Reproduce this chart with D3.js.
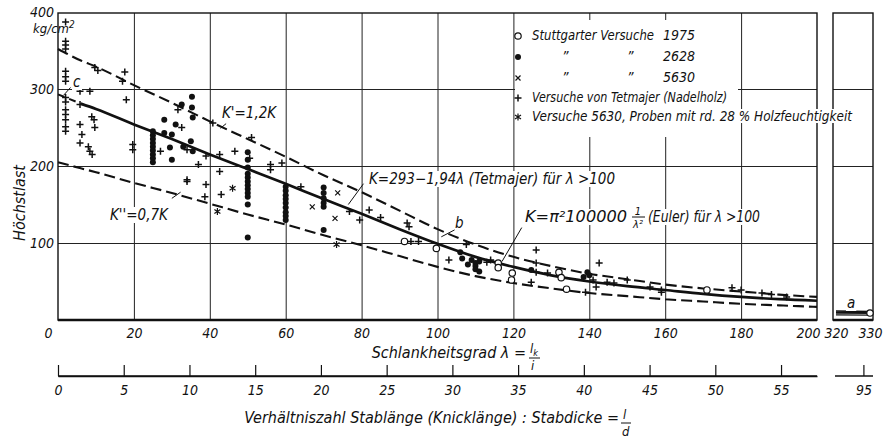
<!DOCTYPE html>
<html lang="de">
<head>
<meta charset="utf-8">
<title>Höchstlast und Schlankheitsgrad</title>
<script src="https://cdn.jsdelivr.net/npm/d3@7/dist/d3.min.js"></script>
<style>
  body { margin: 0; background: #fff; }
  svg text { font-family: "DejaVu Sans Condensed", "Liberation Sans Narrow", sans-serif; font-style: italic; fill: #111; }
</style>
</head>
<body>
<script>
// curve values (lambda, K in kg/cm2)
var curveLambda = [0, 6, 10, 20, 30, 40, 50, 60, 70, 80, 90, 100, 110, 120, 130, 140, 150, 160, 170, 180, 190, 200];
var kMid   = [293, 281, 274, 254, 235, 215, 196, 177, 157, 138, 118, 99, 82, 69, 58, 50, 44, 39, 34, 30, 27, 25];
var kUpper = [352, 337, 329, 305, 282, 258, 235, 212, 188, 166, 142, 118, 98, 82, 70, 60, 53, 46, 41, 37, 33, 30];
var kLower = [205, 197, 192, 178, 165, 151, 137, 124, 110, 97, 83, 69, 57, 48, 41, 35, 31, 27, 24, 21, 19, 17];
// right hand panel (lambda 320 .. 330)
var rightLambda = [320, 330];
var rightMid = [9.6, 9.1];
var rightUpper = [11.6, 10.9];
var rightLower = [6.7, 6.3];

// test points [lambda, K]
var stuttgart1975 = [[91.3,102],[99.7,93],[116,74],[116,68],[119.7,61],[119.5,52],[132,62],[132.6,55],[134,40],[171,39]];
var stuttgart1975Right = [[330,9]];
var stuttgart2628 = [[25,245],[25,240],[25,235],[25,230],[25,225],[25,220],[25,215],[25,210],[25,205],
  [35.3,290],[32.6,280],[35.3,276],[28,260],[31,254],[35.5,263],[28,243],[30,241],[29.5,224],[30,208],[33,225],[35.5,219],[35,232],
  [50,218],[50,208],[50,198],[50,190],[50,185],[50,180],[50,175],[50,170],[50,165],[50,160],[50,150],[50,107],
  [60,173],[60,168],[60,162],[60,157],[60,152],[60,146],[60,140],[60,135],[60,130],
  [70,172],[70,165],[70,158],[70,152],[70,147],[70,117],
  [106,88],[106.5,80],[109,78],[110,74],[110,70],[110,66],[111,63],[108,72],[111,76],
  [124.7,65],[139.5,62],[138.5,56],[140,58]];
var stuttgart5630 = [[73.7,165],[73,132],[67,147]];
var tetmajer = [[2,387],[2,362],[2,357],[2,352],[2,323],[2,316],[2,310],[2,289],[2,283],[2,273],[2,267],[2,260],[2,251],[2,245],
  [5.8,297],[8.4,297],[5.8,280],[9.7,328],[10.5,324],[17.6,322],[17,310],[18,286],[8.9,264],[9.5,260],[5.8,254],[9.7,250],[6.3,241],[5.8,230],[8,225],[8.4,219],[9,215],[19.7,228],[19.7,221],
  [31.6,273],[32.6,250],[27,219],[34,180],
  [40.8,256],[51,237],[46.6,219],[42.6,215],[39,213],[34,221],[37,202],[42.6,193],[56,202],[56,195],[59,204],[50.5,210],[34,182],[39,176],[43,163],[38.7,160],[64,173],
  [76.8,141],[79.5,130],[82,143],[85,133],[92,126],[92.5,121],[93,102],[95,102],[103,78],[107.6,98],
  [113,75],[114,78],[126,91],[126,74],[126,62],[129,61],[124.7,49],[142.6,74],[141,52],[141.8,43],[139,36],[144.7,49],[146.5,48],[150,52],[156,43],[159,39],[159,36],[177.6,42],[180,39],[185.5,35],[188,33],[192,30]];
var moisture5630 = [[73.4,98],[42,141],[46,171]];

var xTicks = [0, 20, 40, 60, 80, 100, 120, 140, 160, 180, 200];
var xTicksRight = [320, 330];
var yTicks = [100, 200, 300, 400];
var ldTicks = [0, 5, 10, 15, 20, 25, 30, 35, 40, 45, 50, 55];
var ldTicksRight = [95];

var w = 886, h = 439;
var svg = d3.select("body").append("svg").attr("width", w).attr("height", h);

var x = d3.scaleLinear().domain([0, 200]).range([58, 817]);
var xR = d3.scaleLinear().domain([320, 330]).range([836, 870]);
var y = d3.scaleLinear().domain([0, 400]).range([320, 12]);
var ld = d3.scaleLinear().domain([0, 200 / Math.sqrt(12)]).range([58, 817]);
var ldR = function(v) { return xR(v * Math.sqrt(12)); };

var yTop = 13, yBottom = 320;
var ink = "#111";

// grid
var gridStyle = function(g) { g.select(".domain").remove(); g.selectAll("line").attr("stroke", "#222").attr("stroke-width", 1); };
svg.append("g").attr("transform", "translate(0," + yBottom + ")")
  .call(d3.axisBottom(x).tickValues(d3.range(20, 200, 20)).tickSize(-(yBottom - yTop)).tickFormat(""))
  .call(gridStyle);
svg.append("g").attr("transform", "translate(58,0)")
  .call(d3.axisLeft(y).tickValues([100, 200, 300]).tickSize(-(817 - 58)).tickFormat(""))
  .call(gridStyle);
svg.append("g").attr("transform", "translate(833,0)")
  .call(d3.axisLeft(y).tickValues([100, 200, 300]).tickSize(-(873 - 833)).tickFormat(""))
  .call(gridStyle);

// frames
svg.append("rect").attr("x", 58).attr("y", yTop).attr("width", 817 - 58).attr("height", yBottom - yTop)
  .attr("fill", "none").attr("stroke", ink).attr("stroke-width", 1.4);
svg.append("rect").attr("x", 833).attr("y", yTop).attr("width", 40).attr("height", yBottom - yTop)
  .attr("fill", "none").attr("stroke", ink).attr("stroke-width", 1.4);
svg.append("line").attr("x1", 58).attr("x2", 817).attr("y1", yBottom).attr("y2", yBottom).attr("stroke", ink).attr("stroke-width", 2.4);
svg.append("line").attr("x1", 833).attr("x2", 873).attr("y1", yBottom).attr("y2", yBottom).attr("stroke", ink).attr("stroke-width", 2.4);

// legend background (covers grid there)
svg.append("rect").attr("x", 515).attr("y", 20).attr("width", 223).attr("height", 117).attr("fill", "#fff");

// curves
var toPts = function(xs, ys) { return xs.map(function(v, i) { return [v, ys[i]]; }); };
var line = d3.line().x(function(d) { return x(d[0]); }).y(function(d) { return y(d[1]); }).curve(d3.curveMonotoneX);
var lineR = d3.line().x(function(d) { return xR(d[0]); }).y(function(d) { return y(d[1]); });
var dash = "11,5";

svg.append("path").attr("d", line(toPts(curveLambda, kUpper))).attr("fill", "none").attr("stroke", ink).attr("stroke-width", 2.1).attr("stroke-dasharray", dash);
svg.append("path").attr("d", line(toPts(curveLambda, kLower))).attr("fill", "none").attr("stroke", ink).attr("stroke-width", 2.1).attr("stroke-dasharray", dash);
var midPts = toPts(curveLambda, kMid);
svg.append("path").attr("d", line(midPts.slice(0, 2))).attr("fill", "none").attr("stroke", ink).attr("stroke-width", 2).attr("stroke-dasharray", "7,5");
svg.append("path").attr("d", line(midPts.slice(1))).attr("fill", "none").attr("stroke", ink).attr("stroke-width", 2.7);

svg.append("path").attr("d", lineR(toPts(rightLambda, rightUpper))).attr("fill", "none").attr("stroke", ink).attr("stroke-width", 1.6);
svg.append("path").attr("d", lineR(toPts(rightLambda, rightMid))).attr("fill", "none").attr("stroke", ink).attr("stroke-width", 2.2);
svg.append("path").attr("d", lineR(toPts(rightLambda, rightLower))).attr("fill", "none").attr("stroke", ink).attr("stroke-width", 1.2);

// markers
function marker(g, type, cx, cy) {
  if (type === "circle") {
    g.append("circle").attr("cx", cx).attr("cy", cy).attr("r", 3.2).attr("fill", "#fff").attr("stroke", ink).attr("stroke-width", 1.2);
  } else if (type === "dot") {
    g.append("circle").attr("cx", cx).attr("cy", cy).attr("r", 3).attr("fill", ink);
  } else if (type === "x") {
    g.append("path").attr("d", "M" + (cx - 2.5) + "," + (cy - 2.5) + "L" + (cx + 2.5) + "," + (cy + 2.5) + "M" + (cx - 2.5) + "," + (cy + 2.5) + "L" + (cx + 2.5) + "," + (cy - 2.5))
      .attr("stroke", ink).attr("stroke-width", 1.2);
  } else if (type === "plus") {
    g.append("path").attr("d", "M" + (cx - 3.5) + "," + cy + "L" + (cx + 3.5) + "," + cy + "M" + cx + "," + (cy - 3.5) + "L" + cx + "," + (cy + 3.5))
      .attr("stroke", ink).attr("stroke-width", 1.5);
  } else if (type === "star") {
    g.append("path").attr("d", "M" + cx + "," + (cy - 3.5) + "L" + cx + "," + (cy + 3.5) +
      "M" + (cx - 3) + "," + (cy - 2) + "L" + (cx + 3) + "," + (cy + 2) + "M" + (cx - 3) + "," + (cy + 2) + "L" + (cx + 3) + "," + (cy - 2))
      .attr("stroke", ink).attr("stroke-width", 1.2);
  }
}
var pts = svg.append("g");
tetmajer.forEach(function(d) { marker(pts, "plus", x(d[0]), y(d[1])); });
stuttgart5630.forEach(function(d) { marker(pts, "x", x(d[0]), y(d[1])); });
moisture5630.forEach(function(d) { marker(pts, "star", x(d[0]), y(d[1])); });
stuttgart2628.forEach(function(d) { marker(pts, "dot", x(d[0]), y(d[1])); });
stuttgart1975.forEach(function(d) { marker(pts, "circle", x(d[0]), y(d[1])); });
stuttgart1975Right.forEach(function(d) { marker(pts, "circle", xR(d[0]), y(d[1])); });

// annotations (white behind, like the original lettering)
function label(txt, lx, ly, size, len) {
  var t = svg.append("text").attr("x", lx).attr("y", ly).attr("font-size", size).text(txt);
  if (len) t.attr("textLength", len).attr("lengthAdjust", "spacingAndGlyphs");
  var b = t.node().getBBox();
  svg.insert("rect", function() { return t.node(); }).attr("x", b.x - 1).attr("y", b.y + 1).attr("width", b.width + 2).attr("height", b.height - 2).attr("fill", "#fff");
  return t;
}
function leader(a, b) {
  svg.append("line").attr("x1", x(a[0])).attr("y1", y(a[1])).attr("x2", x(b[0])).attr("y2", y(b[1])).attr("stroke", ink).attr("stroke-width", 1);
}

label("K'=1,2K", 222, 118, 15);
leader([44.3, 255], [42.8, 249]);
label("K''=0,7K", 110, 220, 15);
leader([30, 158], [32.3, 166]);
label("c", 73, 87, 15);
leader([3.3, 302], [1.5, 292]);
label("K=293−1,94λ (Tetmajer) für λ >100", 369, 184, 15, 246);
leader([80.5, 177], [76.5, 150]);
label("b", 455, 228, 15);
leader([104.5, 117], [101, 108]);
// Euler label with a small stacked fraction
label("K=π²100000", 525, 222, 15, 102);
svg.append("rect").attr("x", 630).attr("y", 204).attr("width", 17).attr("height", 26).attr("fill", "#fff");
svg.append("text").attr("x", 638).attr("y", 215).attr("text-anchor", "middle").attr("font-size", 11).text("1");
svg.append("line").attr("x1", 632).attr("x2", 645).attr("y1", 217).attr("y2", 217).attr("stroke", ink).attr("stroke-width", 1);
svg.append("text").attr("x", 638).attr("y", 228).attr("text-anchor", "middle").attr("font-size", 11).text("λ²");
label("(Euler) für λ >100", 648, 222, 15, 112);
leader([122.2, 120], [117, 76]);
label("a", 847, 308, 15);

// legend
var legRows = [
  { type: "circle", y: 40, parts: [["Stuttgarter Versuche", 532, 122], ["1975", 663]] },
  { type: "dot", y: 61, parts: [["\u201D", 562], ["\u201D", 627], ["2628", 663]] },
  { type: "x", y: 82, parts: [["\u201D", 562], ["\u201D", 627], ["5630", 663]] },
  { type: "plus", y: 102, parts: [["Versuche von Tetmajer (Nadelholz)", 532, 195]] },
  { type: "star", y: 121, parts: [["Versuche 5630, Proben mit rd. 28 % Holzfeuchtigkeit", 532, 320]] }
];
legRows.forEach(function(r) {
  marker(svg, r.type, 518, r.y - 4);
  r.parts.forEach(function(p) {
    if (p[0].length > 40) label(p[0], p[1], r.y, 14, p[2]);
    else {
      var t = svg.append("text").attr("x", p[1]).attr("y", r.y).attr("font-size", 14).text(p[0]);
      if (p[2]) t.attr("textLength", p[2]).attr("lengthAdjust", "spacingAndGlyphs");
    }
  });
});

// axes labels
var axisStyle = function(g) {
  g.select(".domain").remove();
  g.selectAll("text").attr("font-size", 14).attr("font-style", "italic").attr("fill", ink)
    .attr("font-family", "'DejaVu Sans Condensed', 'Liberation Sans Narrow', sans-serif");
};
svg.append("g").attr("transform", "translate(0," + yBottom + ")")
  .call(d3.axisBottom(x).tickValues(xTicks).tickSize(0).tickPadding(8))
  .call(axisStyle)
  .call(function(g) {
    g.selectAll(".tick").filter(function(d) { return d === 0; }).select("text").attr("dx", -10);
    g.selectAll(".tick").filter(function(d) { return d === 200; }).select("text").attr("dx", -9);
  });
svg.append("g").attr("transform", "translate(0," + yBottom + ")")
  .call(d3.axisBottom(xR).tickValues(xTicksRight).tickSize(0).tickPadding(8))
  .call(axisStyle);
svg.append("g").attr("transform", "translate(54,0)")
  .call(d3.axisLeft(y).tickValues(yTicks).tickSize(0).tickPadding(0))
  .call(axisStyle);
svg.append("text").attr("x", 33).attr("y", 33).attr("font-size", 13).attr("font-style", "normal").text("kg/cm").append("tspan").attr("dy", -5).attr("font-size", 10).text("2");
svg.append("text").attr("transform", "translate(25,203) rotate(-90)").attr("text-anchor", "middle").attr("font-size", 16).text("Höchstlast");

// second scale (l/d)
svg.append("g").attr("transform", "translate(0,376)")
  .call(d3.axisBottom(ld).tickValues(ldTicks).tickSizeInner(-11).tickSizeOuter(0).tickPadding(9))
  .call(function(g) {
    g.select(".domain").attr("stroke", ink).attr("stroke-width", 1.4);
    g.selectAll("line").attr("stroke", ink).attr("stroke-width", 1.2);
    g.selectAll("text").attr("font-size", 14).attr("fill", ink);
  });
svg.append("line").attr("x1", ld(0)).attr("x2", 817).attr("y1", 376).attr("y2", 376).attr("stroke", ink).attr("stroke-width", 1.4);
var rAxis = svg.append("g");
rAxis.append("line").attr("x1", 835).attr("x2", 873).attr("y1", 376).attr("y2", 376).attr("stroke", ink).attr("stroke-width", 1.4);
ldTicksRight.forEach(function(v) {
  rAxis.append("line").attr("x1", ldR(v) - 3).attr("x2", ldR(v) - 3).attr("y1", 365).attr("y2", 376).attr("stroke", ink).attr("stroke-width", 1.2);
  rAxis.append("text").attr("x", ldR(v) - 3).attr("y", 395).attr("text-anchor", "middle").attr("font-size", 14).text(v);
});

// axis titles
svg.append("text").attr("x", 526).attr("y", 358).attr("text-anchor", "end").attr("font-size", 16).text("Schlankheitsgrad λ =");
svg.append("text").attr("x", 530).attr("y", 353).attr("font-size", 13).text("l").append("tspan").attr("dy", 3).attr("font-size", 9).text("k");
svg.append("line").attr("x1", 529).attr("x2", 540).attr("y1", 358).attr("y2", 358).attr("stroke", ink).attr("stroke-width", 1);
svg.append("text").attr("x", 531).attr("y", 370).attr("font-size", 13).text("i");

svg.append("text").attr("x", 619).attr("y", 423).attr("text-anchor", "end").attr("font-size", 16).text("Verhältniszahl Stablänge (Knicklänge) : Stabdicke =");
svg.append("text").attr("x", 623).attr("y", 419).attr("font-size", 13).text("l");
svg.append("line").attr("x1", 621).attr("x2", 631).attr("y1", 423).attr("y2", 423).attr("stroke", ink).attr("stroke-width", 1);
svg.append("text").attr("x", 622).attr("y", 436).attr("font-size", 13).text("d");
</script>
</body>
</html>
